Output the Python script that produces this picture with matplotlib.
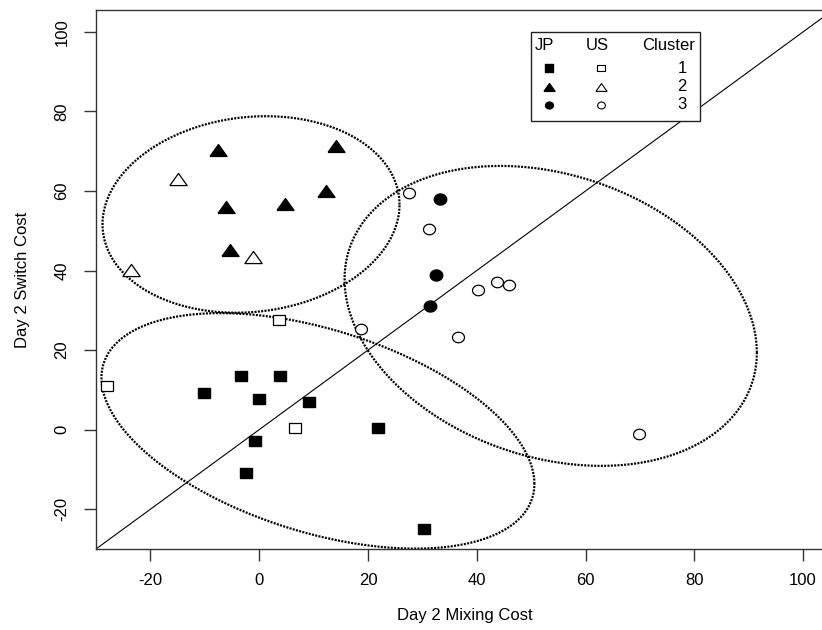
import numpy as np
import matplotlib
matplotlib.use("Agg")
import matplotlib.pyplot as plt
from matplotlib.patches import Rectangle

plt.rcParams['font.family'] = ['Liberation Sans', 'DejaVu Sans']
plt.rcParams['axes.unicode_minus'] = False

# Cluster 1 (squares)
jp_c1_x = [-3.3, 3.9, -10.1, -0.1, 9.2, 21.9, -0.8, -2.4, 30.3]
jp_c1_y = [13.6, 13.6, 9.2, 7.7, 7.0, 0.5, -2.8, -11.0, -24.9]
us_c1_x = [3.7, -27.9, 6.6]
us_c1_y = [27.5, 10.9, 0.3]

# Cluster 2 (triangles)
jp_c2_x = [-7.5, 14.2, 12.2, 4.7, -6.1, -5.4]
jp_c2_y = [70.4, 71.4, 59.9, 56.7, 56.0, 45.2]
us_c2_x = [-15.0, -1.2, -23.6]
us_c2_y = [63.0, 43.4, 40.2]

# Cluster 3 (circles)
jp_c3_x = [33.3, 32.6, 31.4]
jp_c3_y = [58.0, 38.9, 31.0]
us_c3_x = [27.5, 31.2, 40.3, 43.8, 45.9, 36.6, 18.8, 69.9]
us_c3_y = [59.6, 50.5, 35.2, 37.1, 36.4, 23.4, 25.3, -1.0]

# Cluster ellipses: centre, spread along x and y, and correlation
ell_cx = [10.8, -1.5, 53.6]
ell_cy = [-0.3, 54.1, 28.6]
ell_sx = [39.8, 27.3, 37.9]
ell_sy = [29.6, 24.7, 37.7]
ell_rho = [-0.45, 0.10, -0.245]

x_ticks = [-20, 0, 20, 40, 60, 80, 100]
y_ticks = [-20, 0, 20, 40, 60, 80, 100]
x_title = "Day 2 Mixing Cost"
y_title = "Day 2 Switch Cost"

# marker shapes (slightly wider than tall)
SQ = np.array([(-1, -0.85), (1, -0.85), (1, 0.85), (-1, 0.85), (-1, -0.85)])
TRI = np.array([(-1, -0.7), (1, -0.7), (0, 0.7), (-1, -0.7)])
_t = np.linspace(0, 2 * np.pi, 60)
CIRC = np.column_stack([np.cos(_t), 0.88 * np.sin(_t)])

fig = plt.figure(figsize=(8.22, 6.3), dpi=100)
ax = fig.add_axes([96 / 822, 1 - 549 / 630, 737 / 822, 539 / 630])
ax.set_xlim(-30, 105.5)
ax.set_ylim(-30, 105.5)

# identity line
ax.axline((0, 0), slope=1, color='black', lw=0.8, zorder=2)

# ellipses
t = np.linspace(0, 2 * np.pi, 500)
for cx, cy, sx, sy, r in zip(ell_cx, ell_cy, ell_sx, ell_sy, ell_rho):
    ex = cx + sx * np.cos(t)
    ey = cy + sy * (r * np.cos(t) + np.sqrt(1 - r ** 2) * np.sin(t))
    ax.plot(ex, ey, color='black', lw=1.6, linestyle=(0, (0.9, 0.6)), zorder=2)

kw_fill = dict(ls='none', color='black', mec='black', zorder=3)
kw_open = dict(ls='none', mfc='white', mec='black', mew=0.9, zorder=3)
ax.plot(jp_c1_x, jp_c1_y, marker=SQ, ms=9.0, **kw_fill)
ax.plot(us_c1_x, us_c1_y, marker=SQ, ms=8.0, **kw_open)
ax.plot(jp_c2_x, jp_c2_y, marker=TRI, ms=12.2, **kw_fill)
ax.plot(us_c2_x, us_c2_y, marker=TRI, ms=12.5, **kw_open)
ax.plot(jp_c3_x, jp_c3_y, marker=CIRC, ms=9.0, **kw_fill)
ax.plot(us_c3_x, us_c3_y, marker=CIRC, ms=8.6, **kw_open)

# legend box
tr = ax.transAxes
ax.add_patch(Rectangle((0.590, 0.7946), 0.2295, 0.1651, transform=tr,
                       facecolor='white', edgecolor='#222222', lw=1.0, zorder=5))
fs = 12
ax.text(0.609, 0.935, "JP", transform=tr, ha='center', va='center', fontsize=fs, zorder=6)
ax.text(0.680, 0.935, "US", transform=tr, ha='center', va='center', fontsize=fs, zorder=6)
ax.text(0.8128, 0.935, "Cluster", transform=tr, ha='right', va='center', fontsize=fs, zorder=6)
rows_y = [0.892, 0.858, 0.824]
leg_shapes = [(SQ, 6.0, 5.8), (TRI, 8.0, 8.0), (CIRC, 5.6, 5.6)]
for i, (yy, (shape, msf, mso)) in enumerate(zip(rows_y, leg_shapes)):
    ax.plot([0.6147], [yy], transform=tr, marker=shape, ms=msf, ls='none',
            color='black', zorder=6, clip_on=False)
    ax.plot([0.6852], [yy], transform=tr, marker=shape, ms=mso, ls='none',
            mfc='white', mec='black', mew=0.8, zorder=6, clip_on=False)
    ax.text(0.8015, yy, str(i + 1), transform=tr, ha='right', va='center',
            fontsize=fs, zorder=6)

# axes styling
for s in ['left', 'bottom', 'top', 'right']:
    ax.spines[s].set_color('#333333')
    ax.spines[s].set_linewidth(1.0)
ax.set_xticks(x_ticks)
ax.set_yticks(y_ticks)
ax.tick_params(axis='both', direction='out', length=8.6, width=1.0,
               color='#333333', labelsize=12)
ax.tick_params(axis='x', pad=8.5)
ax.tick_params(axis='y', pad=10.5, labelrotation=90)
for lab in ax.get_yticklabels():
    lab.set_verticalalignment('center')

ax.set_xlabel(x_title, fontsize=12)
ax.set_ylabel(y_title, fontsize=12)
ax.xaxis.set_label_coords(0.5, -0.11)
ax.yaxis.set_label_coords(-0.089, 0.5)

fig.savefig("out.png", dpi=100)
